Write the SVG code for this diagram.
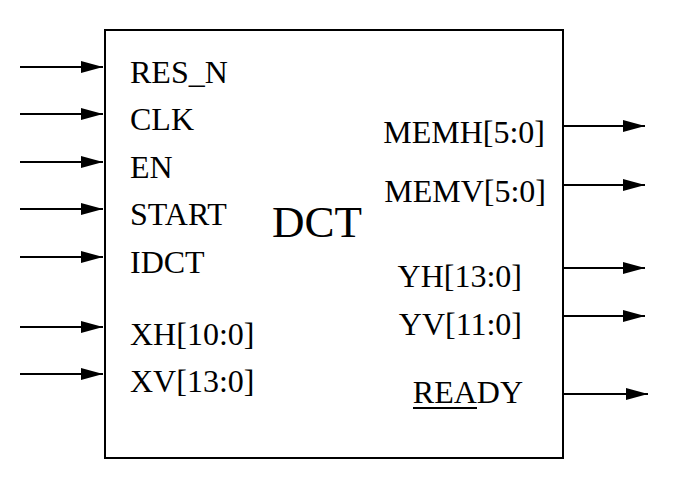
<svg xmlns="http://www.w3.org/2000/svg" width="700" height="485" viewBox="0 0 700 485">
<style>
.lbl{font-family:"Liberation Serif","Times New Roman",serif;font-size:32px;fill:#000}
.title{font-family:"Liberation Serif","Times New Roman",serif;font-size:45px;fill:#000}
.wire{stroke:#000;stroke-width:2;fill:none;marker-end:url(#ah)}
</style>
<defs>
<marker id="ah" markerUnits="userSpaceOnUse" markerWidth="22" markerHeight="12" refX="22" refY="6" orient="auto" viewBox="0 0 22 12">
<path d="M0,0 L22,6 L0,12 z" fill="#000"/>
</marker>
</defs>
<rect width="700" height="485" fill="#fff"/>
<g id="dct">
<rect x="105" y="30" width="458" height="428" fill="#fff" stroke="#000" stroke-width="2"/>
<text class="title" x="272" y="237">DCT</text>
<text class="lbl" x="130" y="83">RES_N</text>
<text class="lbl" x="130" y="130">CLK</text>
<text class="lbl" x="130" y="178">EN</text>
<text class="lbl" x="130" y="225">START</text>
<text class="lbl" x="130" y="273">IDCT</text>
<text class="lbl" x="130" y="345">XH[10:0]</text>
<text class="lbl" x="130" y="392">XV[13:0]</text>
<text class="lbl" x="545" y="143" text-anchor="end">MEMH[5:0]</text>
<text class="lbl" x="546" y="202" text-anchor="end">MEMV[5:0]</text>
<text class="lbl" x="522" y="287" text-anchor="end">YH[13:0]</text>
<text class="lbl" x="522" y="335" text-anchor="end">YV[11:0]</text>
<text class="lbl" x="523" y="403" text-anchor="end">READY</text>
<line x1="413" y1="408" x2="477" y2="408" stroke="#000" stroke-width="2"/>
</g>
<g id="connectors">
<line class="wire" x1="20" y1="67" x2="103" y2="67"/>
<line class="wire" x1="20" y1="114" x2="103" y2="114"/>
<line class="wire" x1="20" y1="162" x2="103" y2="162"/>
<line class="wire" x1="20" y1="209" x2="103" y2="209"/>
<line class="wire" x1="20" y1="257" x2="103" y2="257"/>
<line class="wire" x1="20" y1="327" x2="103" y2="327"/>
<line class="wire" x1="20" y1="374" x2="103" y2="374"/>
<line class="wire" x1="563" y1="126" x2="645" y2="126"/>
<line class="wire" x1="563" y1="185" x2="645" y2="185"/>
<line class="wire" x1="563" y1="268" x2="645" y2="268"/>
<line class="wire" x1="563" y1="316" x2="645" y2="316"/>
<line class="wire" x1="563" y1="394" x2="648" y2="394"/>
</g>
</svg>
